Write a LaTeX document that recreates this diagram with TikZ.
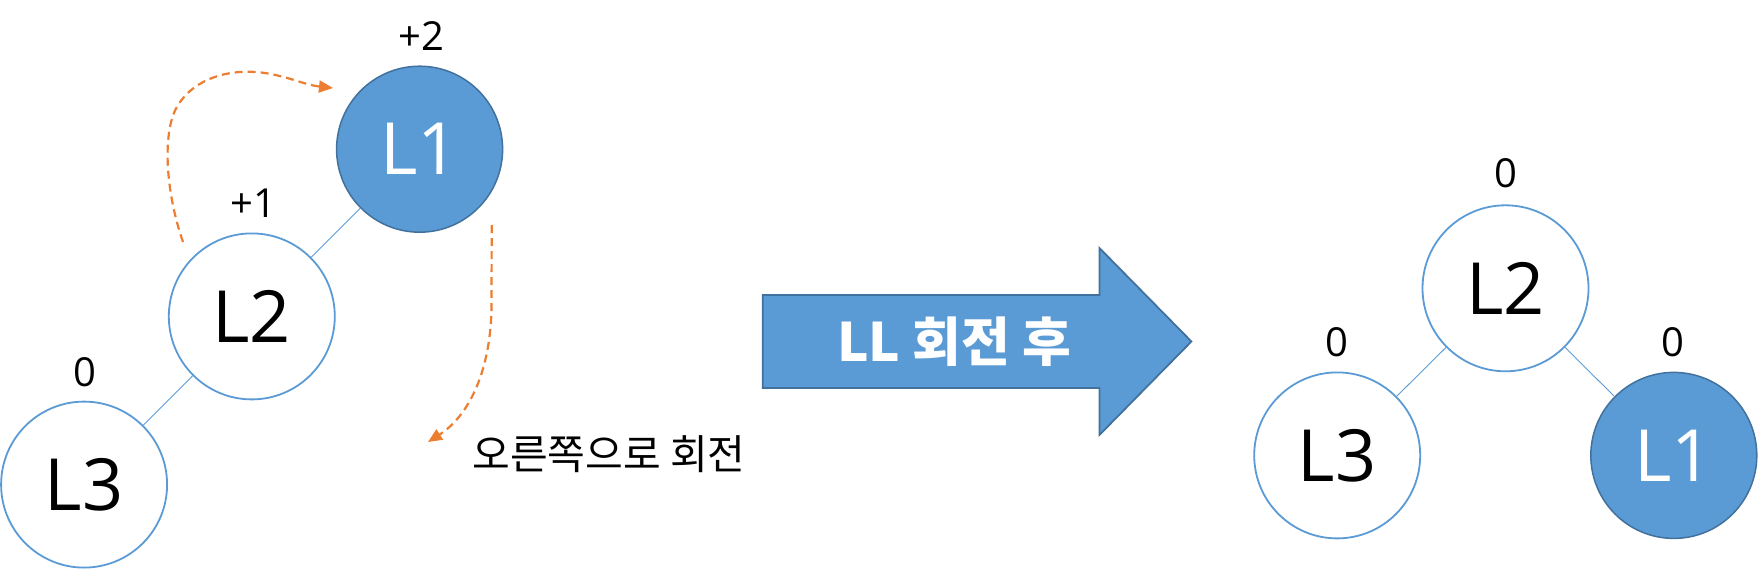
\documentclass[tikz,border=0pt]{standalone}
\usepackage{fontspec}
\setmainfont{Open Sans}
\newfontfamily\kr{Noto Sans CJK KR}
\usetikzlibrary{arrows.meta}
\definecolor{myblue}{HTML}{5B9BD5}
\definecolor{mydark}{HTML}{41719C}
\definecolor{myorange}{HTML}{ED7D31}
\tikzset{
  emptynode/.style={circle, draw=myblue, line width=1.8pt, fill=white, minimum size=166pt, inner sep=0pt, font=\fontsize{72}{72}\selectfont},
  fullnode/.style={circle, draw=mydark, line width=1.5pt, fill=myblue, text=white, minimum size=166pt, inner sep=0pt, font=\fontsize{72}{72}\selectfont},
  link/.style={draw=myblue, line width=0.9pt},
  bal/.style={inner sep=0pt, font=\fontsize{40}{40}\selectfont},
  rot/.style={draw=myorange, line width=2.2pt, dash pattern=on 8pt off 5pt, -{Triangle[length=14pt,width=12pt]}},
  bigarrow/.style={draw=mydark, line width=1.8pt, fill=myblue, line join=miter}
}
\begin{document}
\begin{tikzpicture}[x=1pt,y=-1pt]
\useasboundingbox (0,0) rectangle (1759,570);
% left tree
\node[fullnode] (a1) at (419.6,149.2) {L1};
\node[emptynode] (a2) at (251.8,316.4) {L2};
\node[emptynode] (a3) at (84.1,484.6) {L3};
\draw[link] (a1) -- (a2);
\draw[link] (a2) -- (a3);
\node[bal] (b1) at (421,36) {+2};
\node[bal] (b2) at (253,203) {+1};
\node[bal] (b3) at (85,372) {0};
% rotation arrows
\coordinate (s1) at (183,242);
\coordinate (e1) at (333,88);
\draw[rot] (s1) .. controls (165,190) and (162,130) .. (178,105)
  .. controls (195,78) and (230,68) .. (265,73)
  .. controls (290,77) and (305,85) .. (e1);
\coordinate (s2) at (491.7,225);
\coordinate (e2) at (428,442);
\draw[rot] (s2) -- (491.5,310) .. controls (490,370) and (470,415) .. (e2);
\node[inner sep=0pt, font=\kr\fontsize{41}{41}\selectfont] (t1) at (609,454) {오른쪽으로 회전};
% big arrow
\draw[bigarrow] (762.8,295) -- (1099.4,295) -- (1099.4,248) -- (1191.4,341.5) -- (1099.4,435) -- (1099.4,388) -- (762.8,388) -- cycle;
\node[inner sep=0pt, text=white, font=\kr\bfseries\fontsize{53}{53}\selectfont] (t2) at (954,342) {LL 회전 후};
% right tree
\node[emptynode] (c2) at (1505.5,288.3) {L2};
\node[emptynode] (c3) at (1337.2,455.4) {L3};
\node[fullnode] (c1) at (1673.8,455.4) {L1};
\draw[link] (c2) -- (c3);
\draw[link] (c2) -- (c1);
\node[bal] (d2) at (1506,173) {0};
\node[bal] (d3) at (1337,342) {0};
\node[bal] (d1) at (1673,342) {0};
\end{tikzpicture}
\end{document}
